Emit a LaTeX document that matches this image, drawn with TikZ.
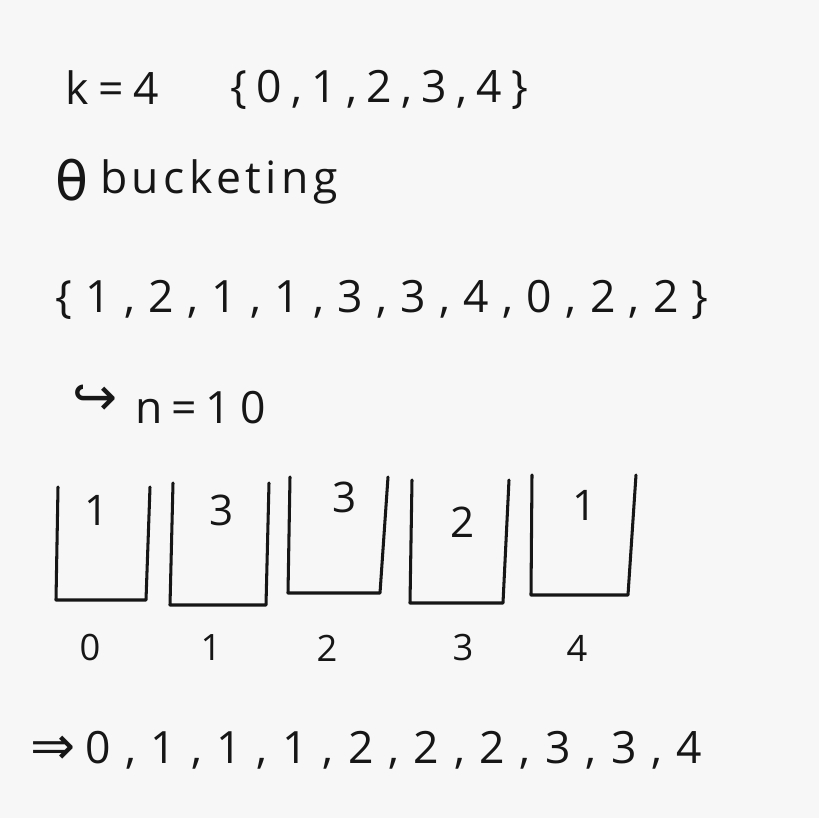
\documentclass[tikz,border=0pt]{standalone}
\usepackage{fontspec}
\setmainfont{Open Sans}
\newfontfamily\symfont{DejaVu Sans}
\usetikzlibrary{positioning}
\definecolor{PaperGray}{RGB}{247,247,247}
\definecolor{InkBlack}{RGB}{22,22,22}
\tikzset{
  hand/.style={
    text=InkBlack,
    inner sep=0pt,
    anchor=west,
    font=\fontsize{38}{40}\selectfont
  },
  spaced/.style={hand, font=\fontsize{38}{40}\selectfont\addfontfeatures{LetterSpace=#1}},
  glyph/.style={hand, font=\fontsize{46}{48}\selectfont\symfont},
  count/.style={text=InkBlack, inner sep=0pt, font=\fontsize{36}{40}\selectfont},
  index/.style={text=InkBlack, inner sep=0pt, font=\fontsize{31}{34}\selectfont},
  bucket/.style={draw=InkBlack, line width=2.6pt, line cap=round, line join=round}
}

\begin{document}
\begin{tikzpicture}[x=0.3mm, y=-0.3mm]
  \fill[PaperGray] (0,0) rectangle (819,818);
  \useasboundingbox (0,0) rectangle (819,818);

  \node[spaced=22] (k) at (65,88) {k=4};
  \node[spaced=21] (universe) at (230,90) {\{0,1,2,3,4\}};
  \node[glyph] (theta) at (55,180) {θ};
  \node[spaced=10] (method) at (100,182) {bucketing};
  \node[spaced=30] (input) at (55,300) {\{1,2,1,1,3,3,4,0,2,2\}};
  \node[glyph] (hook) at (72,400) {↪};
  \node[spaced=20] (size) at (135,408) {n=10};

  % buckets: left top/bottom, right top/bottom, top, bottom, count and its place, index place
  \foreach \i/\lt/\lb/\rt/\rb/\t/\b/\c/\cx/\cy/\ix in {
      0/58/56/150/146/487/600/1/97/510/90,
      1/173/170/269/266/483/605/3/222/510/211,
      2/290/288/388/380/477/593/3/345/497/327,
      3/412/410/509/503/480/603/2/463/522/463,
      4/532/531/636/628/475/595/1/585/505/577} {
    \draw[bucket] (\lt,\t) -- (\lb,\b) -- (\rb,\b) -- (\rt,\t);
    \node[count] (count\i) at (\cx,\cy) {\c};
    \node[index] (index\i) at (\ix,648) {\i};
  }

  \node[glyph] (implies) at (30,750) {⇒};
  \node[spaced=33] (result) at (85,750) {0,1,1,1,2,2,2,3,3,4};
\end{tikzpicture}
\end{document}
